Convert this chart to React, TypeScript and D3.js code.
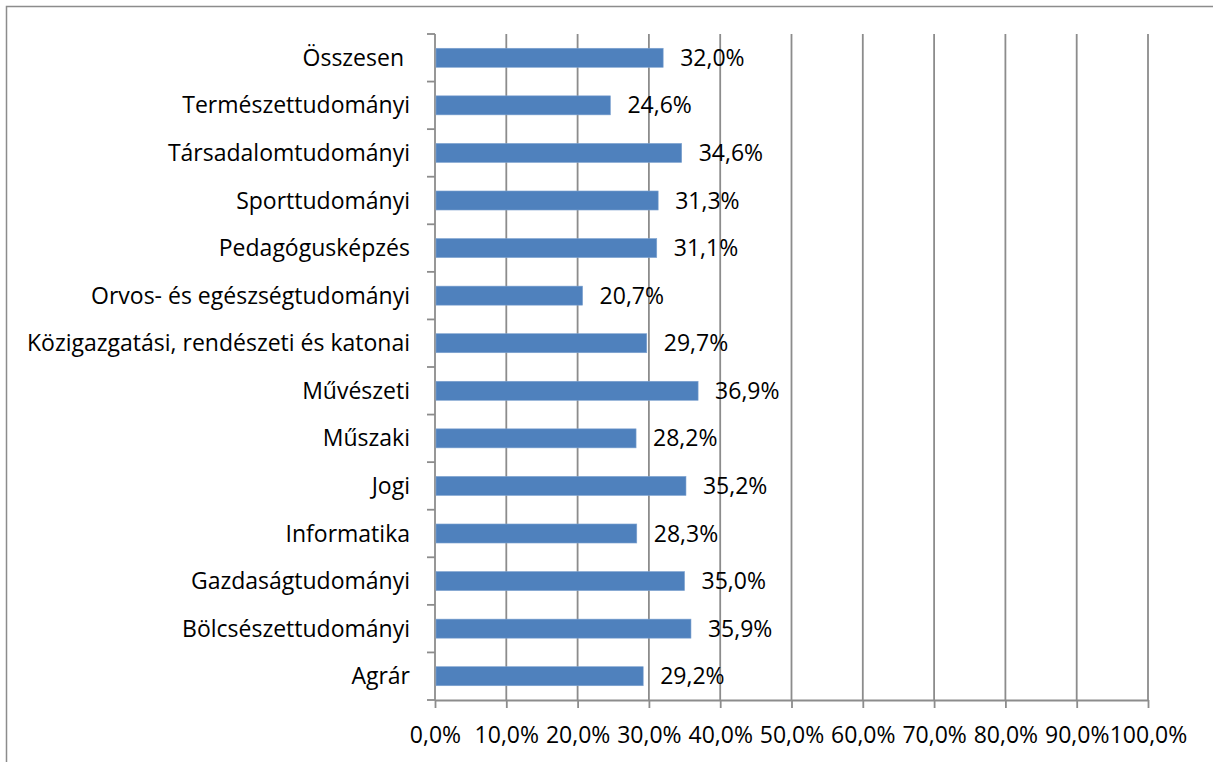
import React, { useEffect, useRef } from 'react';
import * as d3 from 'd3';

const categories = [
  'Összesen ',
  'Természettudományi',
  'Társadalomtudományi',
  'Sporttudományi',
  'Pedagógusképzés',
  'Orvos- és egészségtudományi',
  'Közigazgatási, rendészeti és katonai',
  'Művészeti',
  'Műszaki',
  'Jogi',
  'Informatika',
  'Gazdaságtudományi',
  'Bölcsészettudományi',
  'Agrár',
];

const values = [32.0, 24.6, 34.6, 31.3, 31.1, 20.7, 29.7, 36.9, 28.2, 35.2, 28.3, 35.0, 35.9, 29.2];

const xTicks = [0, 10, 20, 30, 40, 50, 60, 70, 80, 90, 100];

const fmt = (v: number) => v.toFixed(1).replace('.', ',') + '%';

export default function App() {
  const ref = useRef<SVGSVGElement>(null);

  useEffect(() => {
    const svg = d3.select(ref.current);
    svg.selectAll('*').remove();

    const W = 1213;
    const H = 762;
    const margin = { top: 34, right: 65, bottom: 62, left: 435 };
    const width = W - margin.left - margin.right;
    const height = H - margin.top - margin.bottom;
    const font = '"Open Sans", sans-serif';
    const fontSize = '23px';
    const grid = '#8c8c8c';

    // chart frame
    svg
      .append('rect')
      .attr('x', 6.5)
      .attr('y', 6.5)
      .attr('width', W + 20)
      .attr('height', H + 20)
      .style('fill', 'white')
      .style('stroke', '#8c8c8c')
      .style('stroke-width', 1.5);

    const chart = svg.append('g').attr('transform', `translate(${margin.left},${margin.top})`);

    const x = d3.scaleLinear().domain([0, 100]).range([0, width]);
    const y = d3.scaleBand<string>().domain(categories).range([0, height]).paddingInner(0.6).paddingOuter(0.3);
    const band = d3.scaleBand<string>().domain(categories).range([0, height]);

    // vertical gridlines
    chart
      .selectAll('line.grid')
      .data(xTicks.slice(1))
      .enter()
      .append('line')
      .attr('class', 'grid')
      .attr('x1', (d) => x(d))
      .attr('x2', (d) => x(d))
      .attr('y1', 0)
      .attr('y2', height)
      .style('stroke', grid)
      .style('stroke-width', 1.8);

    // x axis
    const xAxis = d3
      .axisBottom(x)
      .tickValues(xTicks)
      .tickSize(8)
      .tickSizeOuter(0)
      .tickFormat((d) => fmt(d as number));
    const gx = chart.append('g').attr('transform', `translate(0,${height})`).call(xAxis);
    gx.select('.domain').style('stroke', grid).style('stroke-width', 1.8);
    gx.selectAll('.tick line').style('stroke', grid).style('stroke-width', 1.8);
    gx.selectAll('.tick text')
      .attr('y', 43)
      .attr('dy', null)
      .style('font-family', font)
      .style('font-size', fontSize)
      .style('fill', '#000');

    // y axis with ticks at category boundaries
    chart
      .append('line')
      .attr('x1', 0)
      .attr('x2', 0)
      .attr('y1', 0)
      .attr('y2', height)
      .style('stroke', grid)
      .style('stroke-width', 1.8);
    const boundaries = categories.map((c) => band(c) as number).concat([height]);
    chart
      .selectAll('line.ytick')
      .data(boundaries)
      .enter()
      .append('line')
      .attr('class', 'ytick')
      .attr('x1', -8)
      .attr('x2', 0)
      .attr('y1', (d) => d)
      .attr('y2', (d) => d)
      .style('stroke', grid)
      .style('stroke-width', 1.8);

    chart
      .selectAll('text.cat')
      .data(categories)
      .enter()
      .append('text')
      .attr('class', 'cat')
      .attr('x', -25)
      .attr('y', (d) => (band(d) as number) + band.bandwidth() / 2)
      .attr('dy', '0.35em')
      .style('text-anchor', 'end')
      .style('white-space', 'pre')
      .style('font-family', font)
      .style('font-size', fontSize)
      .style('fill', '#000')
      .text((d) => d);

    // bars
    chart
      .selectAll('rect.bar')
      .data(values)
      .enter()
      .append('rect')
      .attr('class', 'bar')
      .attr('x', x(0) + 1)
      .attr('y', (d, i) => y(categories[i]) as number)
      .attr('width', (d) => x(d) - x(0) - 1)
      .attr('height', y.bandwidth())
      .style('fill', '#4f81bd')
      .style('stroke', '#7fa3d0')
      .style('stroke-width', 0.6);

    // value labels
    chart
      .selectAll('text.val')
      .data(values)
      .enter()
      .append('text')
      .attr('class', 'val')
      .attr('x', (d) => x(d) + 17)
      .attr('y', (d, i) => (band(categories[i]) as number) + band.bandwidth() / 2)
      .attr('dy', '0.35em')
      .style('font-family', font)
      .style('font-size', fontSize)
      .style('fill', '#000')
      .text((d) => fmt(d));
  }, []);

  return (
    <svg
      ref={ref}
      width={1213}
      height={762}
      style={{ position: 'absolute', left: 0, top: 0, background: 'white' }}
    />
  );
}
